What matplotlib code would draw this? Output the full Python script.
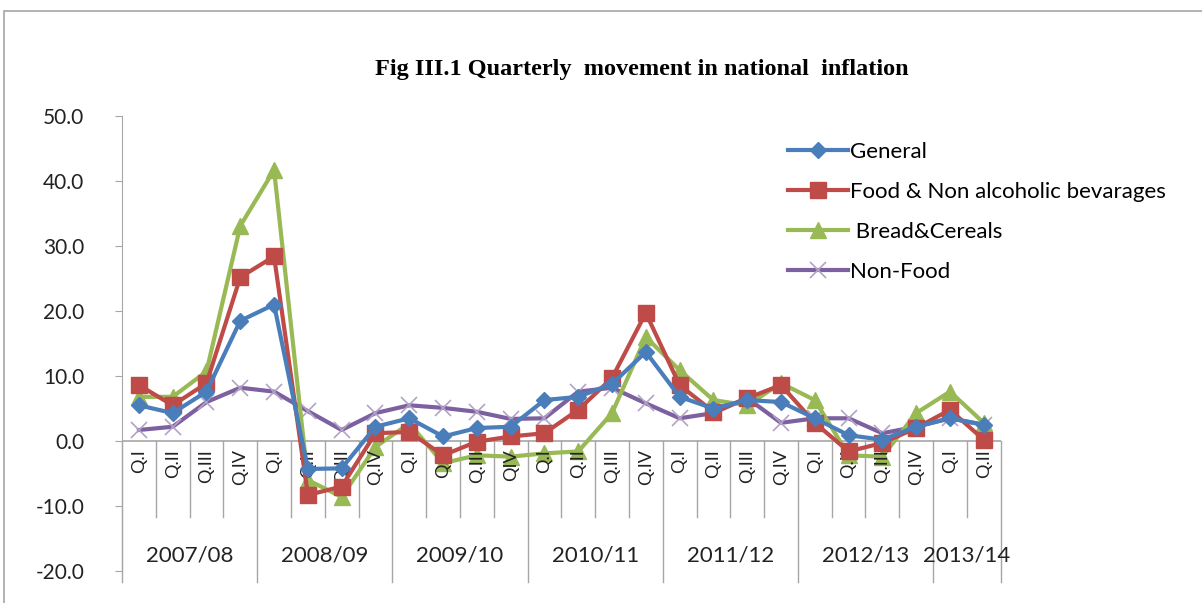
import matplotlib.pyplot as plt
from matplotlib.patches import Rectangle

# ---------------------- DATA ----------------------
years = ["2007/08", "2008/09", "2009/10", "2010/11", "2011/12", "2012/13", "2013/14"]
quarters_per_year = [4, 4, 4, 4, 4, 4, 2]
quarter_labels = ["Q.I", "Q.II", "Q.III", "Q.IV",
                  "Q.I", "Q.II", "Q.III", "Q.IV",
                  "Q.I", "Q.II", "Q.III", "QIV",
                  "Q.I", "Q.II", "Q.III", "Q.IV",
                  "Q.I", "Q.II", "Q.III", "Q.IV",
                  "Q.I", "Q.II", "Q.III", "Q.IV",
                  "Q.I", "Q.II"]

general = [5.5, 4.3, 7.6, 18.5, 21.0, -4.3, -4.2, 2.2, 3.5, 0.7, 2.0, 2.2, 6.3,
           6.8, 8.8, 13.7, 6.8, 5.0, 6.3, 6.0, 3.5, 0.9, 0.2, 2.2, 3.5, 2.5]
food = [8.6, 5.5, 8.9, 25.2, 28.4, -8.3, -7.0, 1.2, 1.4, -2.2, -0.1, 0.7, 1.2,
        4.8, 9.7, 19.7, 8.6, 4.5, 6.6, 8.6, 2.8, -1.6, -0.3, 2.0, 4.8, 0.2]
bread = [6.8, 6.8, 10.7, 33.1, 41.7, -6.0, -8.6, -0.9, 2.7, -3.4, -2.2, -2.4, -1.9,
         -1.6, 4.3, 16.0, 10.9, 6.3, 5.5, 8.9, 6.3, -2.2, -2.4, 4.3, 7.6, 2.8]
non_food = [1.7, 2.2, 6.0, 8.2, 7.6, 4.6, 1.7, 4.3, 5.5, 5.1, 4.5, 3.4, 3.5,
            7.6, 8.2, 5.8, 3.5, 4.3, 6.6, 2.8, 3.5, 3.5, 1.2, 2.2, 3.5, 2.5]

x = list(range(len(quarter_labels)))

# ---------------------- FIGURE ----------------------
fig = plt.figure(figsize=(12.02, 6.03), dpi=100)
ax = fig.add_axes([0.1015, 0.053, 0.731, 0.7546])

fig.patches.append(Rectangle((0.0035, -0.1), 1.2, 1.082, transform=fig.transFigure,
                             fill=False, edgecolor="#A6A6A6", linewidth=1.2))

ax.plot(x, general, color="#4A7EBB", linewidth=3, marker="D", markersize=8,
        label="General", zorder=5)
ax.plot(x, food, color="#BE4B48", linewidth=3, marker="s", markersize=11,
        label="Food & Non alcoholic bevarages", zorder=4)
ax.plot(x, bread, color="#98B954", linewidth=3, marker="^", markersize=11,
        label=" Bread&Cereals", zorder=3)
ax.plot(x, non_food, color="#7D60A0", linewidth=3, marker="x", markersize=12,
        markeredgecolor="#B3A2C7", markeredgewidth=1.2, label="Non-Food", zorder=2)

ax.set_xlim(-0.5, len(x) - 0.5)
ax.set_ylim(-20, 50)
ax.set_yticks(range(-20, 51, 10))
ax.set_yticklabels([f"{v:.1f}" for v in range(-20, 51, 10)], fontsize=15,
                   family="Lato", color="#222222")
ax.set_xticks([])
ax.tick_params(axis="y", direction="out", length=5, color="#A6A6A6", pad=22)

for s in ["top", "right", "bottom"]:
    ax.spines[s].set_visible(False)
ax.spines["left"].set_color("#A6A6A6")

# category axis at zero
ax.axhline(0, color="#A6A6A6", linewidth=1.2, zorder=1)

# quarter labels and separators
year_edges = [0]
for n in quarters_per_year:
    year_edges.append(year_edges[-1] + n)

for i, lab in enumerate(quarter_labels):
    ax.text(i, -1.3, lab, rotation=90, ha="center", va="top", fontsize=13,
            family="Lato", color="#222222")

for b in range(len(x) + 1):
    if b in year_edges:
        ax.plot([b - 0.5, b - 0.5], [0, -21.7], color="#A6A6A6", linewidth=1,
                clip_on=False, zorder=1)
    else:
        ax.plot([b - 0.5, b - 0.5], [0, -11.7], color="#A6A6A6", linewidth=1,
                clip_on=False, zorder=1)

for k, yr in enumerate(years):
    mid = (year_edges[k] + year_edges[k + 1] - 1) / 2
    ax.text(mid, -17.6, yr, ha="center", va="center", fontsize=16,
            family="Lato", color="#222222")

fig.text(0.534, 0.884, "Fig III.1 Quarterly  movement in national  inflation",
         ha="center", va="center", fontsize=17.5, fontweight="bold",
         family="Liberation Serif")

fig.legend(loc="upper left", bbox_to_anchor=(0.648, 0.78), frameon=False,
           prop={"family": "Lato", "size": 16}, labelspacing=0.9,
           handlelength=2.7, handletextpad=0.1, borderaxespad=0)

plt.savefig("out.png", dpi=100)
